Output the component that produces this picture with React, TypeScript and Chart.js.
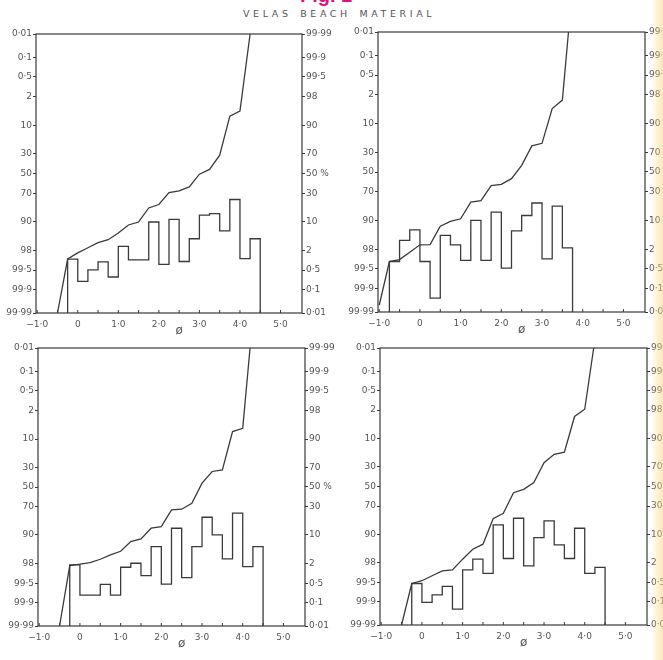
import React, { useEffect, useRef } from 'react';
import { Chart, registerables, LinearScale } from 'chart.js';

// ---------- data ----------
const PROB_TICKS = [0.01, 0.1, 0.5, 2, 10, 30, 50, 70, 90, 98, 99.5, 99.9, 99.99];
const LEFT_TICK_LABELS = ['0·01', '0·1', '0·5', '2', '10', '30', '50', '70', '90', '98', '99·5', '99·9', '99·99'];
const RIGHT_TICK_LABELS = ['0·01', '0·1', '0·5', '2', '10', '30', '50 %', '70', '90', '98', '99·5', '99·9', '99·99'];
const PHI_TICKS = [-1, 0, 1, 2, 3, 4, 5];
const PHI_TICK_LABELS = ['−1·0', '0', '1·0', '2·0', '3·0', '4·0', '5·0'];
const PHI_MINOR_TICKS = [-1, -0.5, 0, 0.5, 1, 1.5, 2, 2.5, 3, 3.5, 4, 4.5, 5];
const PHI_TITLE = 'ø';
const TITLE = 'VELAS BEACH MATERIAL';
const FIG_LABEL = 'Fig. 1';
const CLASS_WIDTH = 0.25;
const BASE = 0.01;

// Panel A (top left)
const A_HIST_START = -0.25;
const A_FREQ = [1.13, 0.2, 0.51, 0.93, 0.29, 2.6, 1.07, 1.07, 9.8, 0.77, 11.1, 0.95, 4.1, 13.3, 14.2, 6.3, 24.4, 1.16, 4.1];
const A_CUM_PHI = [-0.5, -0.25, 0, 0.25, 0.5, 0.75, 1.0, 1.25, 1.5, 1.75, 2.0, 2.25, 2.5, 2.75, 3.0, 3.25, 3.5, 3.75, 4.0, 4.25];
const A_CUM_PCT = [0.01, 1.13, 1.71, 2.39, 3.25, 3.88, 5.64, 8.5, 9.8, 17.9, 20.4, 30.6, 32.2, 36.1, 49.3, 54.3, 68.8, 93.7, 95.2, 99.99];

// Panel B (top right)
const B_HIST_START = -0.75;
const B_FREQ = [0.87, 3.45, 6.24, 0.87, 0.04, 4.59, 2.66, 0.94, 9.9, 0.94, 14.3, 0.53, 5.92, 12.4, 20.5, 1.05, 18.3, 2.2];
const B_CUM_PHI = [-1.0, -0.75, -0.5, -0.25, 0, 0.25, 0.5, 0.75, 1.0, 1.25, 1.5, 1.75, 2.0, 2.25, 2.5, 2.75, 3.0, 3.25, 3.5, 3.65];
const B_CUM_PCT = [0.02, 0.87, 1.0, 1.66, 2.66, 2.7, 7.5, 9.5, 10.7, 21.2, 22.3, 35.8, 37.1, 43, 57, 75.6, 77.7, 95.4, 97.2, 99.99];

// Panel C (bottom left)
const C_HIST_START = -0.25;
const C_FREQ = [1.85, 0.19, 0.19, 0.46, 0.19, 1.59, 2.07, 0.89, 5.55, 0.47, 13.5, 0.77, 5.55, 20.9, 10.0, 2.72, 24.2, 1.66, 5.55];
const C_CUM_PHI = [-0.5, -0.25, 0, 0.25, 0.5, 0.75, 1.0, 1.25, 1.5, 1.75, 2.0, 2.25, 2.5, 2.75, 3.0, 3.25, 3.5, 3.75, 4.0, 4.18];
const C_CUM_PCT = [0.01, 1.77, 1.94, 2.16, 2.66, 3.46, 4.28, 7.2, 8.25, 13.5, 14.5, 27, 27.6, 33.2, 54.1, 66.1, 67.7, 93.1, 94.2, 99.99];

// Panel D (bottom right)
const D_HIST_START = -0.25;
const D_FREQ = [0.46, 0.093, 0.18, 0.365, 0.05, 1.26, 2.55, 0.98, 15.1, 2.66, 19.7, 1.66, 8.5, 17.8, 5.86, 2.66, 13.1, 0.98, 1.49];
const D_CUM_PHI = [-0.5, -0.25, 0, 0.25, 0.5, 0.75, 1.0, 1.25, 1.5, 1.75, 2.0, 2.25, 2.5, 2.75, 3.0, 3.25, 3.5, 3.75, 4.0, 4.22];
const D_CUM_PCT = [0.01, 0.46, 0.57, 0.83, 1.18, 1.26, 2.55, 4.62, 6.07, 19.4, 23.6, 43.4, 47, 54.1, 73.8, 80.6, 82.2, 97.0, 98.1, 99.99];

// ---------- style ----------
const INK = '#3a3a3a';
const LABEL = '#555555';
const FONT = '"DejaVu Sans", sans-serif';
const PHI_MIN = -1.03;
const PHI_MAX = 5.53;
const TITLE_AT = 2.5;

// ---------- probability (probit) scale ----------
function probit(p: number): number {
  const a = [-3.969683028665376e1, 2.209460984245205e2, -2.759285104469687e2, 1.38357751867269e2, -3.066479806614716e1, 2.506628277459239];
  const b = [-5.447609879822406e1, 1.615858368580409e2, -1.556989798598866e2, 6.680131188771972e1, -1.328068155288572e1];
  const c = [-7.784894002430293e-3, -3.223964580411365e-1, -2.400758277161838, -2.549732539343734, 4.374664141464968, 2.938163982698783];
  const d = [7.784695709041462e-3, 3.224671290700398e-1, 2.445134137142996, 3.754408661907416];
  const pl = 0.02425;
  let q: number, r: number;
  if (p < pl) {
    q = Math.sqrt(-2 * Math.log(p));
    return (((((c[0] * q + c[1]) * q + c[2]) * q + c[3]) * q + c[4]) * q + c[5]) / ((((d[0] * q + d[1]) * q + d[2]) * q + d[3]) * q + 1);
  }
  if (p <= 1 - pl) {
    q = p - 0.5;
    r = q * q;
    return ((((((a[0] * r + a[1]) * r + a[2]) * r + a[3]) * r + a[4]) * r + a[5]) * q) / (((((b[0] * r + b[1]) * r + b[2]) * r + b[3]) * r + b[4]) * r + 1);
  }
  q = Math.sqrt(-2 * Math.log(1 - p));
  return -(((((c[0] * q + c[1]) * q + c[2]) * q + c[3]) * q + c[4]) * q + c[5]) / ((((d[0] * q + d[1]) * q + d[2]) * q + d[3]) * q + 1);
}

function normCdf(z: number): number {
  const t = 1 / (1 + 0.2316419 * Math.abs(z));
  const y = t * (0.31938153 + t * (-0.356563782 + t * (1.781477937 + t * (-1.821255978 + t * 1.330274429))));
  const v = 1 - (Math.exp(-z * z / 2) / Math.sqrt(2 * Math.PI)) * y;
  return z >= 0 ? v : 1 - v;
}

class ProbitScale extends LinearScale {
  static id = 'probit';
  static defaults = LinearScale.defaults;
  determineDataLimits() {
    (this as any).min = PROB_TICKS[0];
    (this as any).max = PROB_TICKS[PROB_TICKS.length - 1];
  }
  buildTicks() {
    return PROB_TICKS.map((v) => ({ value: v }));
  }
  getPixelForValue(value: number) {
    const lo = probit((this as any).min / 100);
    const hi = probit((this as any).max / 100);
    const p = Math.min(Math.max(value, 1e-5), 100 - 1e-5) / 100;
    return (this as any).getPixelForDecimal((probit(p) - lo) / (hi - lo));
  }
  getValueForPixel(pixel: number) {
    const lo = probit((this as any).min / 100);
    const hi = probit((this as any).max / 100);
    const z = lo + (this as any).getDecimalForPixel(pixel) * (hi - lo);
    return normCdf(z) * 100;
  }
}

Chart.register(...registerables, ProbitScale as any);

const framePlugin = {
  id: 'frame',
  afterDraw(chart: any) {
    const { ctx, chartArea: a, scales } = chart;
    const x = scales.x;
    ctx.save();
    ctx.strokeStyle = INK;
    ctx.lineWidth = 1.2;
    ctx.strokeRect(a.left, a.top, a.right - a.left, a.bottom - a.top);
    ctx.beginPath();
    PHI_MINOR_TICKS.forEach((v) => {
      const px = x.getPixelForValue(v);
      ctx.moveTo(px, a.bottom);
      ctx.lineTo(px, a.bottom - 3);
    });
    ctx.lineWidth = 1;
    ctx.stroke();
    ctx.fillStyle = LABEL;
    ctx.font = '12px ' + FONT;
    ctx.textAlign = 'center';
    ctx.textBaseline = 'middle';
    ctx.fillText(PHI_TITLE, x.getPixelForValue(TITLE_AT), a.bottom + 18);
    ctx.restore();
  },
};

type PanelProps = {
  left: number; top: number; width: number; height: number;
  axisLeft: number; axisRight: number; padTop: number; axisBottom: number;
  histStart: number; freq: number[]; cumPhi: number[]; cumPct: number[];
};

function Panel(props: PanelProps) {
  const ref = useRef<HTMLCanvasElement>(null);
  useEffect(() => {
    const { histStart, freq, cumPhi, cumPct } = props;
    const histPts = [
      { x: histStart, y: BASE },
      ...freq.map((f, i) => ({ x: histStart + i * CLASS_WIDTH, y: f })),
      { x: histStart + freq.length * CLASS_WIDTH, y: BASE },
    ];
    const cumPts = cumPhi.map((x, i) => ({ x, y: cumPct[i] }));
    const tickFont = { size: 9, family: FONT };
    const chart = new Chart(ref.current as HTMLCanvasElement, {
      type: 'line',
      data: {
        datasets: [
          { data: histPts, stepped: true, borderColor: INK, borderWidth: 1.3, pointRadius: 0, fill: false, xAxisID: 'x', yAxisID: 'yR' },
          { data: cumPts, borderColor: INK, borderWidth: 1.3, pointRadius: 0, fill: false, tension: 0, xAxisID: 'x', yAxisID: 'yR' },
        ],
      } as any,
      options: {
        animation: false,
        responsive: false,
        maintainAspectRatio: false,
        events: [],
        layout: { padding: { top: props.padTop, left: 0, right: 0, bottom: 0 } },
        plugins: { legend: { display: false }, tooltip: { enabled: false }, title: { display: false } },
        scales: {
          x: {
            type: 'linear', min: PHI_MIN, max: PHI_MAX,
            afterBuildTicks: (s: any) => { s.ticks = PHI_TICKS.map((v) => ({ value: v })); },
            afterFit: (s: any) => { s.height = props.axisBottom; },
            ticks: {
              autoSkip: false, maxRotation: 0, padding: 6, color: LABEL, font: tickFont,
              callback: (v: any) => { const i = PHI_TICKS.indexOf(Number(v)); return i >= 0 ? PHI_TICK_LABELS[i] : ''; },
            },
            grid: { display: false, drawTicks: false, tickLength: 0 },
            border: { display: false },
          },
          yL: {
            type: 'probit', position: 'left', reverse: true,
            afterFit: (s: any) => { s.width = props.axisLeft; },
            ticks: {
              autoSkip: false, padding: 1, color: LABEL, font: tickFont,
              callback: (v: any) => { const i = PROB_TICKS.indexOf(Number(v)); return i >= 0 ? LEFT_TICK_LABELS[i] : ''; },
            },
            grid: { display: true, drawOnChartArea: false, drawTicks: true, tickLength: 3, tickColor: INK, tickWidth: 1 },
            border: { display: false },
          },
          yR: {
            type: 'probit', position: 'right', reverse: false,
            afterFit: (s: any) => { s.width = props.axisRight; },
            ticks: {
              autoSkip: false, padding: 1, color: LABEL, font: tickFont,
              callback: (v: any) => { const i = PROB_TICKS.indexOf(Number(v)); return i >= 0 ? RIGHT_TICK_LABELS[i] : ''; },
            },
            grid: { display: true, drawOnChartArea: false, drawTicks: true, tickLength: 3, tickColor: INK, tickWidth: 1 },
            border: { display: false },
          },
        },
      } as any,
      plugins: [framePlugin],
    });
    return () => chart.destroy();
  }, []);
  return (
    <canvas
      ref={ref}
      width={props.width}
      height={props.height}
      style={{ position: 'absolute', left: props.left, top: props.top, width: props.width, height: props.height }}
    />
  );
}

export default function App() {
  return (
    <div style={{ position: 'absolute', left: 0, top: 0, width: 663, height: 660, overflow: 'hidden', background: '#ffffff' }}>
      <div style={{ position: 'absolute', left: 300, top: -15, fontFamily: '"Liberation Sans", Arial, sans-serif', fontWeight: 'bold', fontSize: 20, lineHeight: 1, color: '#e0117f', whiteSpace: 'nowrap' }}>
        {FIG_LABEL}
      </div>
      <div style={{ position: 'absolute', left: 243, top: 9, fontFamily: FONT, fontSize: 9.5, lineHeight: 1, letterSpacing: 3.6, wordSpacing: 2, color: LABEL, whiteSpace: 'nowrap' }}>
        {TITLE}
      </div>
      <Panel left={0} top={0} width={340} height={338} axisLeft={36} axisRight={38} padTop={34} axisBottom={25}
        histStart={A_HIST_START} freq={A_FREQ} cumPhi={A_CUM_PHI} cumPct={A_CUM_PCT} />
      <Panel left={340} top={0} width={323} height={338} axisLeft={38} axisRight={18} padTop={32} axisBottom={26}
        histStart={B_HIST_START} freq={B_FREQ} cumPhi={B_CUM_PHI} cumPct={B_CUM_PCT} />
      <Panel left={0} top={338} width={340} height={322} axisLeft={38} axisRight={35} padTop={10} axisBottom={34}
        histStart={C_HIST_START} freq={C_FREQ} cumPhi={C_CUM_PHI} cumPct={C_CUM_PCT} />
      <Panel left={340} top={338} width={323} height={322} axisLeft={40} axisRight={16} padTop={10} axisBottom={35}
        histStart={D_HIST_START} freq={D_FREQ} cumPhi={D_CUM_PHI} cumPct={D_CUM_PCT} />
      <div style={{ position: 'absolute', right: 0, top: 0, width: 12, height: 660, background: 'linear-gradient(to right, rgba(255,240,200,0), rgba(250,215,130,0.6))' }} />
    </div>
  );
}
